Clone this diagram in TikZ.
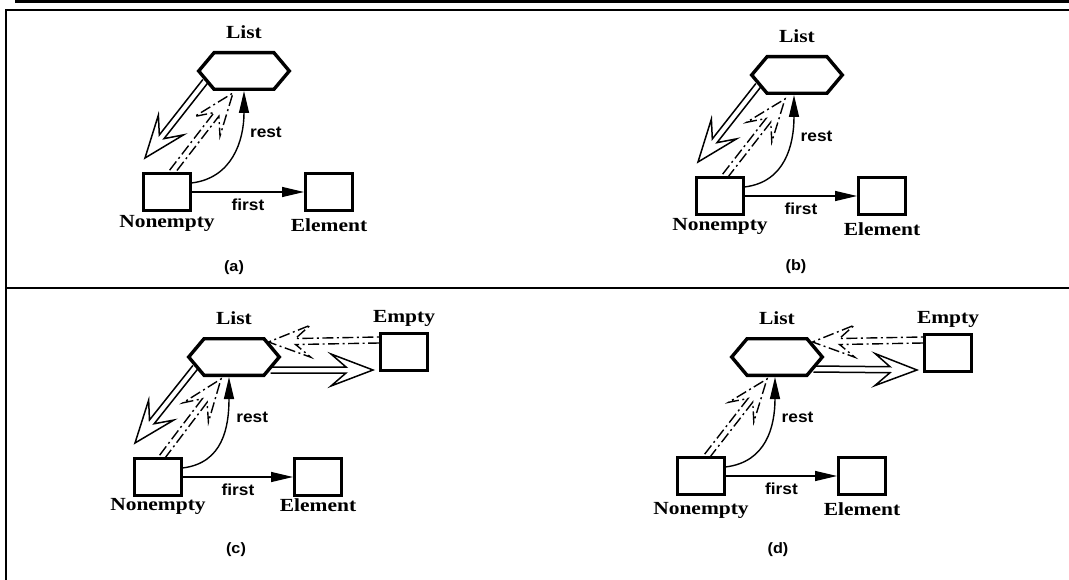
\documentclass[tikz,border=0pt]{standalone}
\usepackage{fontspec}
\setmainfont{Liberation Serif}[FakeStretch=1.16]
\setsansfont{Liberation Sans}[FakeStretch=1.08]
\usetikzlibrary{shapes.symbols, arrows.meta, positioning, calc}
\tikzset{
    classbox/.style={
        rectangle, draw, line width=3.4pt,
        minimum width=46.6pt, minimum height=36.6pt, inner sep=0pt
    },
    listhex/.style={
        signal, signal to=east and west, signal pointer angle=100,
        draw, line width=3.4pt, minimum width=90.6pt, minimum height=36.6pt, inner sep=0pt
    },
    classname/.style={font=\bfseries\fontsize{18.5}{21}\selectfont, inner sep=0pt},
    rolename/.style={font=\sffamily\bfseries\fontsize{16}{19}\selectfont, inner sep=0pt},
    caption/.style={font=\sffamily\bfseries\fontsize{15}{18}\selectfont, inner sep=0pt},
    link/.style={line width=1.4pt, -{Triangle[length=22pt, width=10pt]}},
    hollowarrow/.style={line width=1.5pt, line join=miter},
    dotarrow/.style={line width=1.4pt, dash pattern=on 11pt off 3.5pt on 2pt off 3.5pt},
    frame/.style={line width=2pt}
}
% Z-shaped double arrow: #1 style, #2 from, #3 to
\newcommand{\zarrow}[3]{%
  \draw[#1] let \p1=(#2), \p2=(#3), \n1={atan2(\y2-\y1,\x2-\x1)} in
    ($(\p1)+(\n1+90:3pt)$) -- ($(\p2)+(\n1:-27pt)+(\n1+90:3pt)$)
    -- ($(\p2)+(\n1:-42pt)+(\n1+90:16pt)$) -- (\p2)
    -- ($(\p2)+(\n1:-42pt)+(\n1-90:16pt)$) -- ($(\p2)+(\n1:-27pt)+(\n1-90:3pt)$)
    -- ($(\p1)+(\n1-90:3pt)$);
}
\begin{document}
\begin{tikzpicture}[x=1pt, y=-1pt]
\useasboundingbox (0,0) rectangle (1069,580);

% FRAME
\fill (15,0) rectangle (1069,3);
\draw[frame] (6,580) -- (6,10) -- (1069,10);
\draw[frame] (6,288) -- (1069,288);

% PANEL (a)
\node[listhex] (lista) at (244,71) {};
\node[classbox] (nonea) at (167,192) {};
\node[classbox] (elema) at (329,192) {};
\node[classname, above=12pt of lista] (tlista) {List};
\node[classname, below=3pt of nonea] (tnonea) {Nonempty};
\node[classname, below=6pt of elema] (telema) {Element};
\draw[link] (nonea) -- node[rolename, below=6pt] (firsta) {first} (elema);
\draw[link] (nonea.20) .. controls +(40,-5) and +(0,50) .. node[rolename, pos=0.7, right=9pt] (resta) {rest} (lista.south);
\zarrow{hollowarrow}{lista.195}{[xshift=3pt,yshift=14pt]nonea.north west}
\zarrow{dotarrow}{[xshift=5pt]nonea.north}{[xshift=-11pt,yshift=-2pt]lista.south}
\node[caption] (capa) at (234,268) {(a)};

% PANEL (b)
\node[listhex] (listb) at (797,75) {};
\node[classbox] (noneb) at (720,196) {};
\node[classbox] (elemb) at (882,196) {};
\node[classname, above=12pt of listb] (tlistb) {List};
\node[classname, below=2pt of noneb] (tnoneb) {Nonempty};
\node[classname, below=6pt of elemb] (telemb) {Element};
\draw[link] (noneb) -- node[rolename, below=6pt] (firstb) {first} (elemb);
\draw[link] (noneb.20) .. controls +(40,-5) and +(0,50) .. node[rolename, pos=0.7, right=9pt] (restb) {rest} ([xshift=-3pt]listb.south);
\zarrow{hollowarrow}{listb.195}{[xshift=3pt,yshift=14pt]noneb.north west}
\zarrow{dotarrow}{[xshift=5pt]noneb.north}{[xshift=-12pt,yshift=-4pt]listb.south}
\node[caption] (capb) at (796,267) {(b)};

% PANEL (c)
\node[listhex] (listc) at (234,357) {};
\node[classbox] (emptyc) at (404,352) {};
\node[classbox] (nonec) at (158,477) {};
\node[classbox] (elemc) at (318,477) {};
\node[classname, above=12pt of listc] (tlistc) {List};
\node[classname, above=5pt of emptyc] (temptyc) {Empty};
\node[classname, below=1pt of nonec] (tnonec) {Nonempty};
\node[classname, below=1pt of elemc] (telemc) {Element};
\draw[link] (nonec) -- node[rolename, below=6pt] (firstc) {first} (elemc);
\draw[link] (nonec.20) .. controls +(40,-5) and +(0,50) .. node[rolename, pos=0.7, right=9pt] (restc) {rest} ([xshift=-5pt]listc.south);
\zarrow{hollowarrow}{listc.195}{[xshift=2pt,yshift=14pt]nonec.north west}
\zarrow{dotarrow}{[xshift=4pt]nonec.north}{[xshift=-13pt,yshift=-2pt]listc.south}
\zarrow{hollowarrow}{[xshift=-11pt,yshift=-13pt]listc.east}{[xshift=-6pt,yshift=-18pt]emptyc.west}
\zarrow{dotarrow}{[yshift=12pt]emptyc.west}{[xshift=-13pt,yshift=15pt]listc.east}
\node[caption] (capc) at (236,550) {(c)};

% PANEL (d)
\node[listhex] (listd) at (777,357) {};
\node[classbox] (emptyd) at (948,353) {};
\node[classbox] (noned) at (701,476) {};
\node[classbox] (elemd) at (862,476) {};
\node[classname, above=12pt of listd] (tlistd) {List};
\node[classname, above=5pt of emptyd] (temptyd) {Empty};
\node[classname, below=6pt of noned] (tnoned) {Nonempty};
\node[classname, below=6pt of elemd] (telemd) {Element};
\draw[link] (noned) -- node[rolename, below=6pt] (firstd) {first} (elemd);
\draw[link] (noned.20) .. controls +(40,-5) and +(0,50) .. node[rolename, pos=0.7, right=9pt] (restd) {rest} ([xshift=-2pt]listd.south);
\zarrow{dotarrow}{[xshift=6pt]noned.north}{[xshift=-10pt,yshift=-2pt]listd.south}
\zarrow{hollowarrow}{[xshift=-11pt,yshift=-12pt]listd.east}{[xshift=-6pt,yshift=-17pt]emptyd.west}
\zarrow{dotarrow}{[yshift=13pt]emptyd.west}{[xshift=-12pt,yshift=15pt]listd.east}
\node[caption] (capd) at (778,550) {(d)};

\end{tikzpicture}
\end{document}
